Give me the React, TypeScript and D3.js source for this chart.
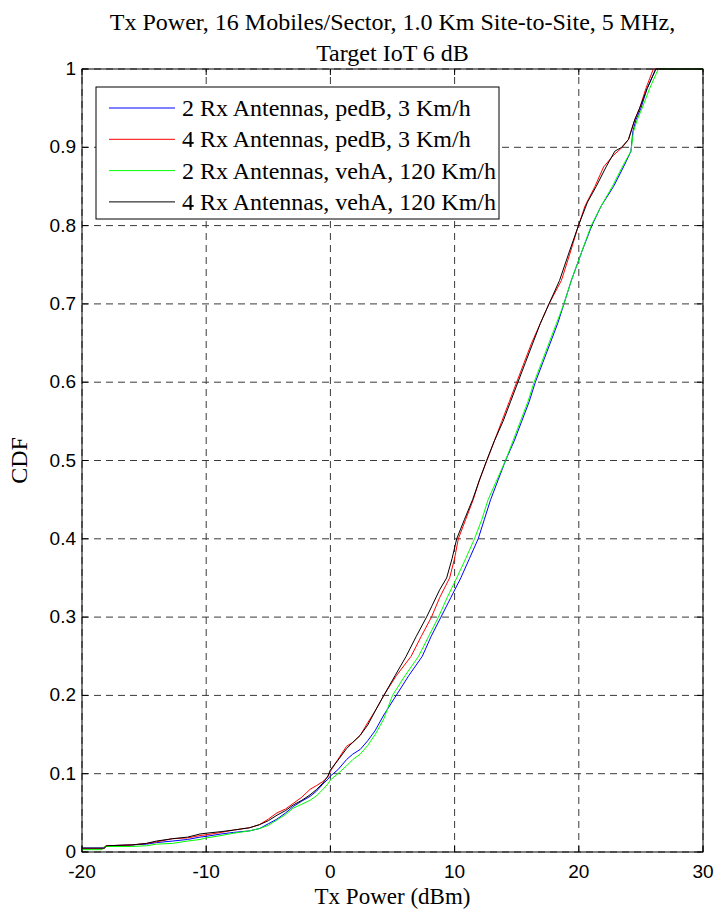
import React from "react";
import * as d3 from "d3";

const titleLines = ["Tx Power, 16 Mobiles/Sector, 1.0 Km Site-to-Site, 5 MHz,", "Target IoT 6 dB"];
const xLabel = "Tx Power (dBm)";
const yLabel = "CDF";
const xTicks = [-20, -10, 0, 10, 20, 30];
const yTicks = [0, 0.1, 0.2, 0.3, 0.4, 0.5, 0.6, 0.7, 0.8, 0.9, 1];
const seriesNames = [
  "2 Rx Antennas, pedB, 3 Km/h",
  "4 Rx Antennas, pedB, 3 Km/h",
  "2 Rx Antennas, vehA, 120 Km/h",
  "4 Rx Antennas, vehA, 120 Km/h",
];
const seriesColors = ["#0000ff", "#ff0000", "#00ff00", "#000000"];

const blue2pedB: [number, number][] = [[-20,0.005],[-18.2,0.005],[-18,0.008],[-16,0.009],[-14.8,0.01],[-14,0.012],[-12.7,0.014],[-11.5,0.016],[-10.5,0.019],[-10,0.02],[-8.8,0.023],[-7.8,0.025],[-6.5,0.027],[-5.7,0.03],[-5,0.036],[-4.3,0.042],[-3.6,0.05],[-3,0.058],[-2.3,0.065],[-1.64,0.071],[-1.1,0.078],[-0.6,0.087],[-0.2,0.093],[0,0.097],[0.6,0.105],[1.3,0.118],[1.8,0.125],[2.4,0.131],[3.0,0.142],[3.6,0.155],[4.3,0.175],[5.3,0.2],[6.3,0.225],[7.4,0.25],[8.1,0.275],[8.9,0.3],[9.7,0.325],[10.5,0.35],[11.2,0.375],[11.9,0.4],[12.4,0.425],[12.9,0.45],[13.5,0.475],[14.1,0.5],[14.8,0.525],[15.4,0.55],[16.0,0.575],[16.5,0.6],[17.1,0.625],[17.7,0.65],[18.3,0.675],[18.8,0.7],[19.4,0.73],[20.2,0.765],[21.05,0.8],[21.8,0.825],[22.8,0.85],[23.6,0.875],[24.2,0.895],[24.35,0.92],[24.6,0.935],[25.0,0.95],[25.5,0.975],[26.2,1.0],[30,1.0]];
const red4pedB: [number, number][] = [[-20,0.004],[-18.3,0.004],[-18.1,0.008],[-16,0.009],[-14.8,0.011],[-14,0.013],[-12.7,0.017],[-11.5,0.018],[-10.5,0.021],[-10,0.022],[-8.8,0.025],[-7.8,0.028],[-6.5,0.031],[-5.7,0.035],[-5,0.042],[-4.3,0.05],[-3.6,0.055],[-3,0.062],[-2.3,0.07],[-1.64,0.08],[-1.1,0.085],[-0.6,0.09],[-0.2,0.096],[0,0.103],[0.6,0.118],[1.3,0.135],[1.8,0.14],[2.4,0.149],[3.0,0.165],[3.6,0.18],[4.3,0.2],[5.3,0.225],[6.5,0.25],[7.3,0.275],[8.14,0.3],[8.8,0.325],[9.6,0.35],[10.0,0.375],[10.3,0.4],[10.9,0.425],[11.5,0.45],[12.0,0.475],[12.6,0.5],[13.2,0.525],[13.8,0.55],[14.4,0.575],[15.0,0.6],[15.6,0.625],[16.2,0.65],[16.9,0.675],[17.6,0.7],[18.6,0.73],[19.3,0.765],[19.97,0.8],[20.5,0.825],[21.3,0.85],[22.0,0.875],[22.8,0.89],[23.5,0.9],[24.0,0.91],[24.5,0.935],[24.9,0.95],[25.4,0.975],[26.0,1.0],[30,1.0]];
const green2vehA: [number, number][] = [[-20,0.003],[-18.4,0.003],[-18.2,0.007],[-16,0.007],[-14.8,0.008],[-14,0.01],[-12.7,0.011],[-11.5,0.014],[-10.5,0.016],[-10,0.018],[-8.8,0.021],[-7.8,0.024],[-6.5,0.027],[-5.7,0.03],[-5,0.034],[-4.3,0.041],[-3.6,0.048],[-3,0.056],[-2.3,0.061],[-1.64,0.066],[-1.1,0.072],[-0.6,0.08],[-0.2,0.087],[0,0.092],[0.6,0.1],[1.3,0.11],[1.8,0.118],[2.4,0.125],[3.0,0.136],[3.6,0.15],[4.3,0.17],[5.0,0.2],[6.0,0.225],[7.1,0.25],[7.9,0.275],[8.7,0.3],[9.4,0.325],[10.17,0.35],[10.9,0.375],[11.6,0.4],[12.2,0.425],[12.7,0.45],[13.4,0.475],[14.1,0.5],[14.7,0.525],[15.3,0.55],[15.9,0.575],[16.4,0.6],[17.0,0.625],[17.6,0.65],[18.2,0.675],[18.8,0.7],[19.4,0.73],[20.2,0.765],[21.0,0.8],[21.8,0.825],[22.7,0.85],[23.5,0.875],[24.2,0.895],[24.4,0.92],[24.7,0.935],[25.1,0.95],[25.7,0.975],[26.4,1.0],[30,1.0]];
const black4vehA: [number, number][] = [[-20,0.005],[-18.2,0.005],[-18,0.008],[-16,0.009],[-14.8,0.011],[-14,0.014],[-12.7,0.017],[-11.5,0.019],[-10.5,0.023],[-10,0.024],[-8.8,0.026],[-7.8,0.028],[-6.5,0.031],[-5.7,0.035],[-5,0.04],[-4.3,0.047],[-3.6,0.053],[-3,0.06],[-2.3,0.066],[-1.64,0.073],[-1.1,0.08],[-0.6,0.088],[-0.2,0.097],[0,0.105],[0.6,0.117],[1.3,0.132],[1.8,0.14],[2.4,0.149],[3.0,0.162],[3.6,0.18],[4.3,0.2],[5.2,0.225],[6.1,0.25],[6.9,0.275],[7.74,0.3],[8.2,0.315],[8.8,0.335],[9.36,0.35],[9.8,0.375],[10.17,0.4],[10.8,0.425],[11.45,0.45],[12.0,0.475],[12.58,0.5],[13.2,0.525],[13.9,0.55],[14.5,0.575],[15.1,0.6],[15.7,0.625],[16.3,0.65],[16.9,0.675],[17.6,0.7],[18.45,0.73],[19.2,0.765],[19.97,0.8],[20.7,0.83],[21.4,0.85],[22.2,0.875],[22.9,0.895],[23.45,0.9],[24.0,0.91],[24.5,0.935],[24.9,0.95],[25.5,0.975],[26.2,1.0],[30,1.0]];

const seriesData = [blue2pedB, red4pedB, green2vehA, black4vehA];

const W = 717, H = 911;
const L = 82, R = 703, T = 69, B = 852;

export default function App() {
  const x = d3.scaleLinear().domain([-20, 30]).range([L, R]);
  const y = d3.scaleLinear().domain([0, 1]).range([B, T]);
  const line = d3.line<[number, number]>().x(d => x(d[0])).y(d => y(d[1]));
  const gridColor = "#3a3a3a";
  const serif = "Liberation Serif, Times New Roman, serif";
  const sans = "Liberation Sans, Arial, sans-serif";
  const legX = 96, legY = 87, legW = 403, legH = 132;
  return (
    <svg width={W} height={H} style={{ position: "absolute", left: 0, top: 0, background: "#fff" }}>
      <rect x={0} y={0} width={W} height={H} fill="#fff" />
      {xTicks.map(t => (
        <line key={"gx" + t} x1={x(t)} x2={x(t)} y1={B} y2={T} stroke={gridColor} strokeDasharray="7,5" strokeWidth={1} />
      ))}
      {yTicks.map(t => (
        <line key={"gy" + t} x1={L} x2={R} y1={y(t)} y2={y(t)} stroke={gridColor} strokeDasharray="7,5" strokeWidth={1} />
      ))}
      {xTicks.map(t => (
        <g key={"tx" + t}>
          <line x1={x(t)} x2={x(t)} y1={B} y2={B - 6} stroke="#000" />
          <line x1={x(t)} x2={x(t)} y1={T} y2={T + 6} stroke="#000" />
        </g>
      ))}
      {yTicks.map(t => (
        <g key={"ty" + t}>
          <line x1={L} x2={L + 6} y1={y(t)} y2={y(t)} stroke="#000" />
          <line x1={R} x2={R - 6} y1={y(t)} y2={y(t)} stroke="#000" />
        </g>
      ))}
      {seriesData.map((s, i) => (
        <path key={"s" + i} d={line(s) || ""} fill="none" stroke={seriesColors[i]} strokeWidth={1} />
      ))}
      <rect x={L} y={T} width={R - L} height={B - T} fill="none" stroke="#000" strokeWidth={1} />
      {xTicks.map(t => (
        <text key={"lx" + t} x={x(t)} y={B + 26} textAnchor="middle" fontFamily={sans} fontSize={19}>{t}</text>
      ))}
      {yTicks.map(t => (
        <text key={"ly" + t} x={L - 6} y={y(t) + 6} textAnchor="end" fontFamily={sans} fontSize={19}>{t}</text>
      ))}
      {titleLines.map((s, i) => (
        <text key={"t" + i} x={(L + R) / 2} y={30 + i * 31} textAnchor="middle" fontFamily={serif} fontSize={24}>{s}</text>
      ))}
      <text x={(L + R) / 2} y={904} textAnchor="middle" fontFamily={serif} fontSize={23}>{xLabel}</text>
      <text transform={`translate(27,${(T + B) / 2}) rotate(-90)`} textAnchor="middle" fontFamily={serif} fontSize={24}>{yLabel}</text>
      <rect x={legX} y={legY} width={legW} height={legH} fill="#fff" stroke="#000" strokeWidth={1} />
      {seriesNames.map((n, i) => {
        const ry = legY + 21 + i * 31.3;
        return (
          <g key={"lg" + i}>
            <line x1={109} x2={175} y1={ry} y2={ry} stroke={seriesColors[i]} strokeWidth={1} />
            <text x={182} y={ry + 8} fontFamily={serif} fontSize={24}>{n}</text>
          </g>
        );
      })}
    </svg>
  );
}
